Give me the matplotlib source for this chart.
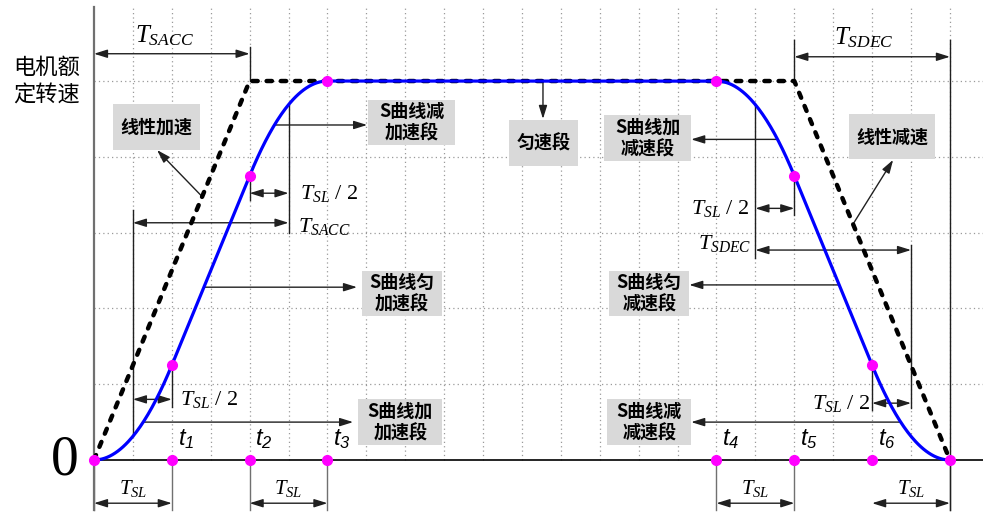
import numpy as np
import matplotlib.pyplot as plt
from matplotlib.patches import Rectangle

plt.rcParams['font.family'] = ['Liberation Serif', 'DejaVu Serif']
plt.rcParams['mathtext.fontset'] = 'custom'
plt.rcParams['mathtext.rm'] = 'Liberation Serif'
plt.rcParams['mathtext.it'] = 'Liberation Serif:italic'
plt.rcParams['mathtext.sf'] = 'Liberation Sans:italic'

# key points of the S-curve (time in grid units, speed in grid units)
T_SL = 2
t_knots = [0, 2, 4, 6, 16, 18, 20, 22]
v_knots = [0, 1.25, 3.75, 5, 5, 3.75, 1.25, 0]
seg_kind = ['in', 'lin', 'out', 'lin', 'in', 'lin', 'out']
t_names = ['1', '2', '3', '4', '5', '6']

# plain linear (trapezoid) profile
lin_t = [0, 4, 18, 22]
lin_v = [0, 5, 5, 0]

rated = 5


def segment(t0, t1, v0, v1, kind, n=60):
    s = np.linspace(0, 1, n)
    if kind == 'in':
        f = s ** 2
    elif kind == 'out':
        f = 1 - (1 - s) ** 2
    else:
        f = s
    return t0 + (t1 - t0) * s, v0 + (v1 - v0) * f


ct, cv = [], []
for i, k in enumerate(seg_kind):
    a, b = segment(t_knots[i], t_knots[i + 1], v_knots[i], v_knots[i + 1], k)
    ct.append(a)
    cv.append(b)
ct = np.concatenate(ct)
cv = np.concatenate(cv)

acc = ct <= 6
dec = ct >= 16


def t_acc(v):
    return np.interp(v, cv[acc], ct[acc])


def t_dec(v):
    return np.interp(v, cv[dec][::-1], ct[dec][::-1])


def v_at(t):
    return np.interp(t, ct, cv)


fig = plt.figure(figsize=(9.83, 5.12), dpi=100)
ax = fig.add_axes([0, 0, 1, 1])
ax.set_xlim(-2.416, 22.85)
ax.set_ylim(-0.686, 6.069)
ax.axis('off')

top = 5.98
bot = -0.66

# dotted grid
grid_style = dict(color='#9a9a9a', lw=0.9, linestyle=(0, (1, 2.5)), zorder=1)
for x in range(1, 23):
    ax.plot([x, x], [0, top], **grid_style)
for y in range(1, 6):
    ax.plot([0, 22.85], [y, y], **grid_style)

# axes
ax.plot([0, 0], [bot, top], color='#707070', lw=1.6, zorder=2)
ax.plot([0, 22.85], [0, 0], color='black', lw=1.2, zorder=2)

dim_c = '#202020'


def vline(x, y0, y1, c=dim_c, lw=1.0):
    ax.plot([x, x], [y0, y1], color=c, lw=lw, zorder=3)


def dim(x0, x1, y):
    ax.annotate('', xy=(x1, y), xytext=(x0, y),
                arrowprops=dict(arrowstyle='<|-|>,head_length=0.8,head_width=0.25',
                                color=dim_c, lw=1.0, shrinkA=0, shrinkB=0), zorder=4)


def pointer(x0, y0, x1, y1):
    ax.annotate('', xy=(x1, y1), xytext=(x0, y0),
                arrowprops=dict(arrowstyle='-|>,head_length=0.8,head_width=0.25',
                                color=dim_c, lw=1.0, shrinkA=0, shrinkB=0), zorder=4)


def box(x0, x1, y0, y1, text):
    ax.add_patch(Rectangle((x0, y0), x1 - x0, y1 - y0, facecolor='#d9d9d9',
                           edgecolor='none', zorder=3))
    ax.text((x0 + x1) / 2, (y0 + y1) / 2, text, ha='center', va='center',
            fontsize=13, fontweight='bold', family=['Noto Sans CJK SC'],
            linespacing=1.2, zorder=5)


# profiles
ax.plot(lin_t, lin_v, color='black', lw=3.2, linestyle=(0, (1.2, 2.0)),
        dash_capstyle='round', zorder=5)
ax.plot(ct, cv, color='#0000ff', lw=2.3, zorder=6)
ax.plot(t_knots, v_knots, 'o', color='#ff00ff', ms=7, zorder=7)
ax.plot(t_knots[1:-1], [0] * 6, 'o', color='#ff00ff', ms=7, zorder=7)

for t, name in zip(t_knots[1:-1], t_names):
    ax.text(t + 0.15, 0.27, r'$\mathsf{t_{' + name + '}}$', fontsize=17,
            ha='left', va='center')

ax.text(-0.75, 0, '0', fontsize=40, ha='center', va='center')
ax.text(-1.23, 5.0, '电机额\n定转速', fontsize=16, ha='center', va='center',
        family=['Noto Sans CJK SC'], fontweight='light', linespacing=1.25)

# bottom T_SL dimensions
for i in [0, 2, 4, 6]:
    a, b = t_knots[i], t_knots[i + 1]
    if i < 6:
        vline(a, 0, bot, c='#707070')
    vline(b, 0, bot, c='#707070')
    dim(a, b, -0.57)
    ax.text((a + b) / 2, -0.37, '$T_{SL}$', fontsize=15, ha='center', va='center')
vline(22, 5.54, bot)

# acceleration side
vline(4, rated, 5.45)
dim(0, 4, 5.36)
ax.text(1.8, 5.6, '$T_{SACC}$', fontsize=18, ha='center', va='center')

t3 = t_knots[3]
vline(t3 - T_SL / 2, v_at(t3 - T_SL / 2), 2.99)
vline(4, v_knots[2], 3.43)
dim(4, t3 - T_SL / 2, 3.52)
ax.text(5.3, 3.52, '$T_{SL}$ / 2', fontsize=16, ha='left', va='center')
vline(1, v_at(1), 3.3)
dim(1, t3 - T_SL / 2, 3.13)
ax.text(5.24, 3.08, '$T_{SACC}$', fontsize=16, ha='left', va='center')

vline(2, v_knots[1], 0.70)
dim(1, 2, 0.80)
ax.text(2.2, 0.80, '$T_{SL}$ / 2', fontsize=16, ha='left', va='center')

box(0.49, 2.72, 4.09, 4.70, '线性加速')
pointer(2.78, np.interp(2.78, lin_t, lin_v), 1.62, 4.09)

box(7.04, 9.28, 4.16, 4.75, 'S曲线减\n加速段')
pointer(t_acc(4.42), 4.42, 7.02, 4.42)
box(6.89, 8.95, 1.90, 2.50, 'S曲线匀\n加速段')
pointer(t_acc(2.28), 2.28, 6.76, 2.28)
box(6.79, 8.95, 0.20, 0.80, 'S曲线加\n加速段')
pointer(t_acc(0.50), 0.50, 6.66, 0.50)

box(10.67, 12.44, 3.88, 4.49, '匀速段')
pointer(11.54, rated, 11.54, 4.50)

# deceleration side
vline(18, rated, 5.54)
dim(18, 22, 5.32)
ax.text(19.8, 5.57, '$T_{SDEC}$', fontsize=18, ha='center', va='center')

vline(17, v_at(17), 2.66)
vline(18, v_knots[5], 3.23)
dim(17, 18, 3.32)
ax.text(16.86, 3.32, '$T_{SL}$ / 2', fontsize=16, ha='right', va='center')
vline(21, 2.84, 0.69)
dim(17, 21, 2.77)
ax.text(16.9, 2.86, '$T_{SDEC}$', fontsize=16, ha='right', va='center')

vline(20, v_knots[6], 0.66)
dim(20, 21, 0.75)
ax.text(19.95, 0.75, '$T_{SL}$ / 2', fontsize=16, ha='right', va='center')

box(19.41, 21.62, 3.97, 4.56, '线性减速')
pointer(19.51, np.interp(19.51, lin_t, lin_v), 20.54, 3.96)

box(13.11, 15.35, 3.94, 4.55, 'S曲线加\n减速段')
pointer(t_dec(4.23), 4.23, 15.35, 4.23)
box(13.24, 15.30, 1.90, 2.50, 'S曲线匀\n减速段')
pointer(t_dec(2.31), 2.31, 15.30, 2.31)
box(13.19, 15.35, 0.20, 0.80, 'S曲线减\n减速段')
pointer(t_dec(0.50), 0.50, 15.35, 0.50)

fig.savefig('out.png', dpi=100)
